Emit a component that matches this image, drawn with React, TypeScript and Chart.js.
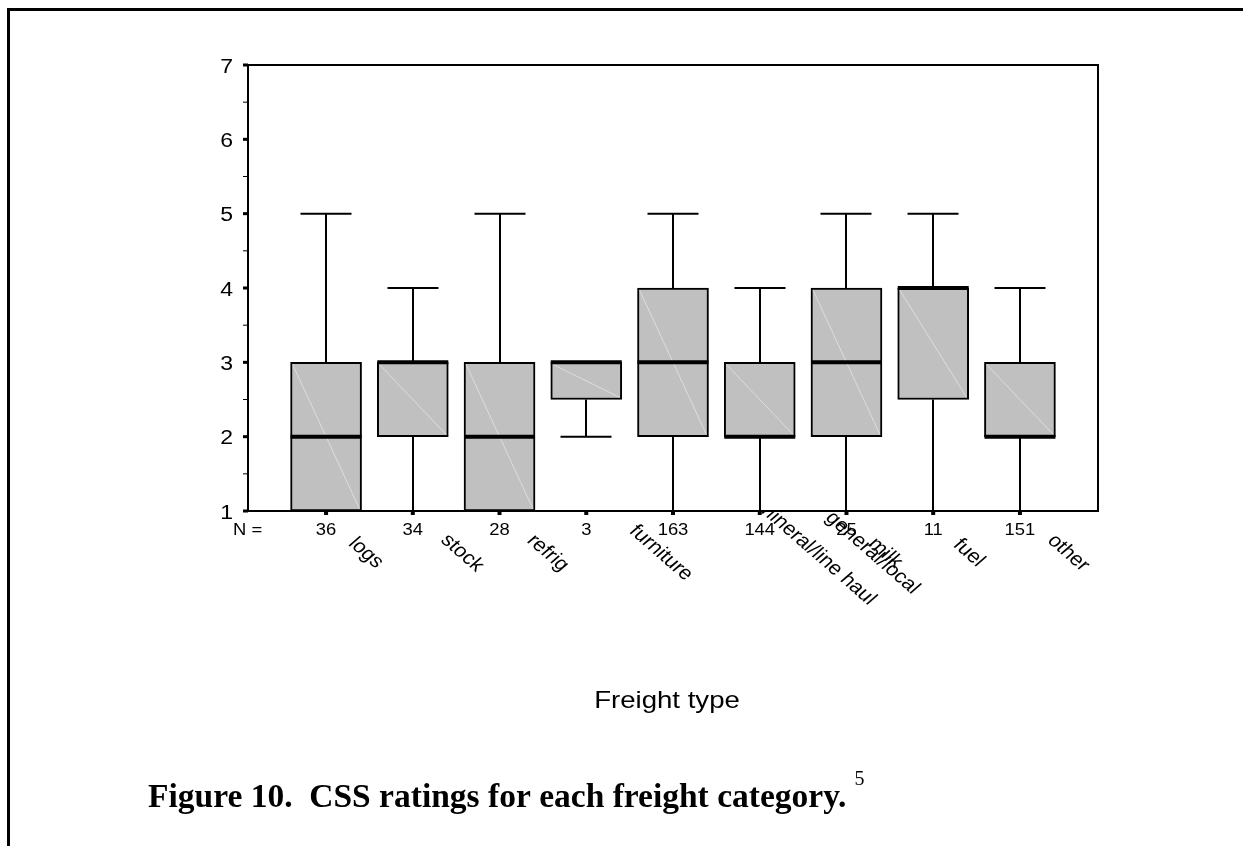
import React, { useEffect, useRef } from 'react';
import { Chart, registerables } from 'chart.js';

Chart.register(...registerables);

// ---- data ----
const categories = ['logs', 'stock', 'refrig', 'furniture', 'mineral/line haul', 'general/local', 'milk', 'fuel', 'other'];
const counts = [36, 34, 28, 3, 163, 144, 25, 11, 151];
const whiskerLow = [1, 1, 1, 2, 1, 1, 1, 1, 1];
const quartile1 = [1, 2, 1, 2.5, 2, 2, 2, 2.5, 2];
const medians = [2, 3, 2, 3, 3, 2, 3, 4, 2];
const quartile3 = [3, 3, 3, 3, 4, 3, 4, 4, 3];
const whiskerHigh = [5, 4, 5, 3, 5, 4, 5, 5, 4];
const yTicks = [1, 2, 3, 4, 5, 6, 7];
const nLabel = 'N =';
const xTitle = 'Freight type';
const caption = 'Figure 10.  CSS ratings for each freight category.';
const footnote = '5';

const SANS = '"Liberation Sans", Arial, sans-serif';
const SERIF = '"Liberation Serif", "Times New Roman", serif';
const STRETCH = 1.15;

function stretchedText(ctx: CanvasRenderingContext2D, text: string, x: number, y: number, font: string, align: CanvasTextAlign, baseline: CanvasTextBaseline, rot = 0) {
  ctx.save();
  ctx.translate(x, y);
  ctx.scale(STRETCH, 1);
  if (rot) ctx.rotate(rot);
  ctx.font = font;
  ctx.textAlign = align;
  ctx.textBaseline = baseline;
  ctx.fillStyle = '#000';
  ctx.fillText(text, 0, 0);
  ctx.restore();
}

const boxPlugin = {
  id: 'boxPlugin',
  beforeDraw(chart: any) {
    const ctx: CanvasRenderingContext2D = chart.ctx;
    const xs = chart.scales.x;
    const area = chart.chartArea;
    ctx.save();
    ctx.fillStyle = '#fff';
    ctx.fillRect(0, 0, chart.width, chart.height);
    // page frame
    ctx.fillStyle = '#000';
    ctx.fillRect(7, 8, 3, chart.height - 8);
    ctx.fillRect(7, 8, chart.width - 7, 3);
    // rotated category labels
    const lblFont = `19px ${SANS}`;
    ctx.font = lblFont;
    categories.forEach((c, i) => {
      const cx = xs.getPixelForValue(i);
      const w = ctx.measureText(c).width;
      stretchedText(ctx, c, cx + 5 + w, area.bottom + 42, lblFont, 'center', 'middle', Math.PI / 4);
    });
    // axis title
    stretchedText(ctx, xTitle, (area.left + area.right) / 2 - 6, area.bottom + 190, `24px ${SANS}`, 'center', 'middle');
    // caption
    ctx.font = `bold 33.5px ${SERIF}`;
    ctx.textAlign = 'left';
    ctx.textBaseline = 'alphabetic';
    ctx.fillStyle = '#000';
    ctx.fillText(caption, 148, 807);
    const cw = ctx.measureText(caption).width;
    ctx.font = `20px ${SERIF}`;
    ctx.fillText(footnote, 148 + cw + 8, 785);
    ctx.restore();
  },
  beforeDatasetsDraw(chart: any) {
    const ctx: CanvasRenderingContext2D = chart.ctx;
    const xs = chart.scales.x;
    const ys = chart.scales.y;
    const area = chart.chartArea;
    ctx.save();
    ctx.fillStyle = '#fff';
    ctx.fillRect(area.left, area.top, area.right - area.left, area.bottom - area.top);
    ctx.strokeStyle = '#000';
    ctx.lineWidth = 2;
    const capHalf = 25.5;
    categories.forEach((_, i) => {
      const cx = Math.round(xs.getPixelForValue(i));
      const segs: [number, number][] = [];
      if (whiskerHigh[i] > quartile3[i]) segs.push([quartile3[i], whiskerHigh[i]]);
      if (whiskerLow[i] < quartile1[i]) segs.push([quartile1[i], whiskerLow[i]]);
      segs.forEach(([a, b]) => {
        const ya = ys.getPixelForValue(a);
        const yb = ys.getPixelForValue(b);
        ctx.beginPath();
        ctx.moveTo(cx, ya);
        ctx.lineTo(cx, yb);
        ctx.moveTo(cx - capHalf, yb);
        ctx.lineTo(cx + capHalf, yb);
        ctx.stroke();
      });
    });
    ctx.restore();
  },
  afterDatasetsDraw(chart: any) {
    const ctx: CanvasRenderingContext2D = chart.ctx;
    const xs = chart.scales.x;
    const ys = chart.scales.y;
    const area = chart.chartArea;
    const meta = chart.getDatasetMeta(0);
    ctx.save();
    // faint diagonal artefacts and medians
    meta.data.forEach((bar: any, i: number) => {
      const half = bar.width / 2;
      const yTop = ys.getPixelForValue(quartile3[i]);
      const yBot = ys.getPixelForValue(quartile1[i]);
      ctx.strokeStyle = 'rgba(255,255,255,0.45)';
      ctx.lineWidth = 1;
      ctx.beginPath();
      ctx.moveTo(bar.x - half + 2, yTop + 2);
      ctx.lineTo(bar.x + half - 2, yBot - 2);
      ctx.stroke();
      const ym = ys.getPixelForValue(medians[i]);
      ctx.strokeStyle = '#000';
      ctx.lineWidth = 4;
      ctx.beginPath();
      ctx.moveTo(bar.x - half, ym);
      ctx.lineTo(bar.x + half, ym);
      ctx.stroke();
    });
    // plot frame
    ctx.strokeStyle = '#000';
    ctx.lineWidth = 2;
    ctx.strokeRect(area.left, area.top, area.right - area.left, area.bottom - area.top);
    // y ticks
    ctx.fillStyle = '#000';
    for (let v = yTicks[0]; v <= yTicks[yTicks.length - 1]; v += 0.5) {
      const y = ys.getPixelForValue(v);
      if (Number.isInteger(v)) ctx.fillRect(area.left - 5, y - 1.5, 5, 3);
      else ctx.fillRect(area.left - 5, y - 0.5, 5, 1);
    }
    yTicks.forEach((t) => {
      stretchedText(ctx, String(t), area.left - 15, ys.getPixelForValue(t) + 2, `20px ${SANS}`, 'right', 'middle');
    });
    // x ticks and N labels
    stretchedText(ctx, nLabel, area.left - 15, area.bottom + 20, `16px ${SANS}`, 'left', 'middle');
    categories.forEach((_, i) => {
      const cx = xs.getPixelForValue(i);
      ctx.fillRect(cx - 2, area.bottom, 4, 4);
      stretchedText(ctx, String(counts[i]), cx, area.bottom + 20, `16px ${SANS}`, 'center', 'middle');
    });
    ctx.restore();
  },
};

export default function App() {
  const ref = useRef<HTMLCanvasElement | null>(null);
  useEffect(() => {
    document.body.style.margin = '0';
    const canvas = ref.current!;
    const chart = new Chart(canvas, {
      type: 'bar',
      data: {
        datasets: [
          {
            data: categories.map((_, i) => ({ x: i, y: [quartile1[i], quartile3[i]] })) as any,
            backgroundColor: '#c0c0c0',
            borderColor: '#000',
            borderWidth: 2,
            borderSkipped: false,
            barThickness: 71,
          },
        ],
      },
      options: {
        responsive: false,
        animation: false,
        devicePixelRatio: 1,
        layout: { padding: { left: 248, top: 65, right: 145, bottom: 335 } },
        plugins: { legend: { display: false }, tooltip: { enabled: false } },
        scales: {
          x: { type: 'linear', min: -0.9, max: 8.9, display: false, offset: false },
          y: { type: 'linear', min: 1, max: 7, display: false },
        },
      },
      plugins: [boxPlugin],
    });
    return () => chart.destroy();
  }, []);
  return (
    <canvas
      ref={ref}
      width={1243}
      height={846}
      style={{ position: 'absolute', left: 0, top: 0, width: 1243, height: 846, display: 'block' }}
    />
  );
}
